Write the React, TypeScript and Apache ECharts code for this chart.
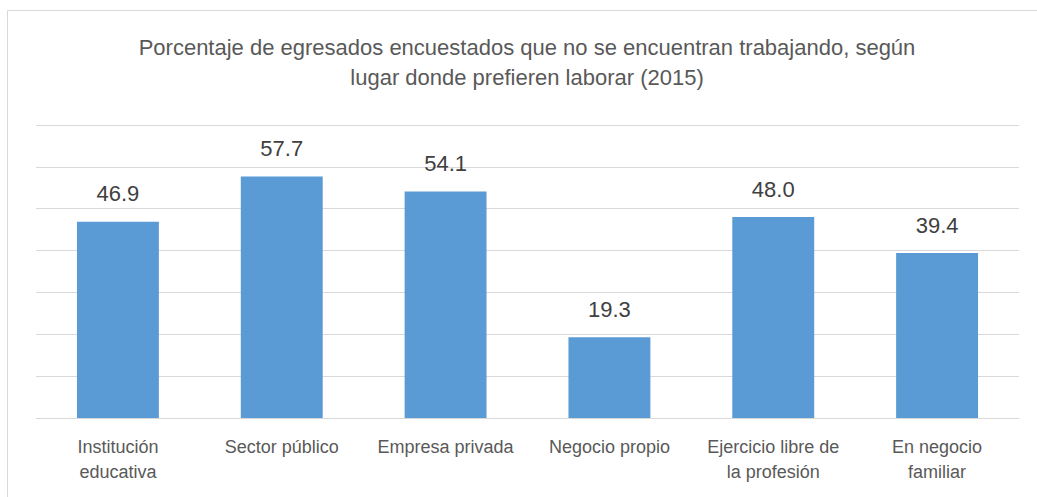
import React, { useEffect, useRef } from "react";
import * as echarts from "echarts";

const titleLines = [
  "Porcentaje de egresados encuestados que no se encuentran trabajando, según",
  "lugar donde prefieren laborar (2015)",
];
const categories = [
  "Institución\neducativa",
  "Sector público",
  "Empresa privada",
  "Negocio propio",
  "Ejercicio libre de\nla profesión",
  "En negocio\nfamiliar",
];
const values = [46.9, 57.7, 54.1, 19.3, 48.0, 39.4];
const yMin = 0;
const yMax = 70;
const yInterval = 10;

const FONT = "'Liberation Sans', Arial, sans-serif";

export default function App() {
  const ref = useRef<HTMLDivElement>(null);
  useEffect(() => {
    if (!ref.current) return;
    const chart = echarts.init(ref.current, null, { renderer: "svg" });
    chart.setOption({
      animation: false,
      backgroundColor: "#ffffff",
      graphic: [
        {
          type: "rect",
          shape: { x: 7.5, y: 10.5, width: 1040, height: 500 },
          style: { fill: "none", stroke: "#D9D9D9", lineWidth: 1 },
          silent: true,
        },
        {
          type: "text",
          x: 527,
          y: 47,
          style: {
            text: titleLines[0],
            fill: "#595959",
            font: `22px ${FONT}`,
            textAlign: "center",
            textVerticalAlign: "middle",
          },
        },
        {
          type: "text",
          x: 527,
          y: 77,
          style: {
            text: titleLines[1],
            fill: "#595959",
            font: `22px ${FONT}`,
            textAlign: "center",
            textVerticalAlign: "middle",
          },
        },
      ],
      grid: { left: 36, right: 18, top: 125, bottom: 79, containLabel: false },
      xAxis: {
        type: "category",
        data: categories,
        axisLine: { show: true, lineStyle: { color: "#D9D9D9", width: 1 } },
        axisTick: { show: false },
        axisLabel: {
          interval: 0,
          color: "#595959",
          fontFamily: FONT,
          fontSize: 18,
          lineHeight: 25,
          margin: 16,
        },
      },
      yAxis: {
        type: "value",
        min: yMin,
        max: yMax,
        interval: yInterval,
        axisLabel: { show: false },
        axisLine: { show: false },
        axisTick: { show: false },
        splitLine: { show: true, lineStyle: { color: "#D9D9D9", width: 1 } },
      },
      series: [
        {
          type: "bar",
          data: values,
          barWidth: "50%",
          itemStyle: { color: "#5B9BD5" },
          label: {
            show: true,
            position: "top",
            distance: 15,
            color: "#404040",
            fontFamily: FONT,
            fontSize: 22,
            lineHeight: 26,
            formatter: (p: any) => Number(p.value).toFixed(1),
          },
        },
      ],
    });
    return () => chart.dispose();
  }, []);
  return (
    <div
      ref={ref}
      style={{ position: "absolute", left: 0, top: 0, width: 1037, height: 497 }}
    />
  );
}
